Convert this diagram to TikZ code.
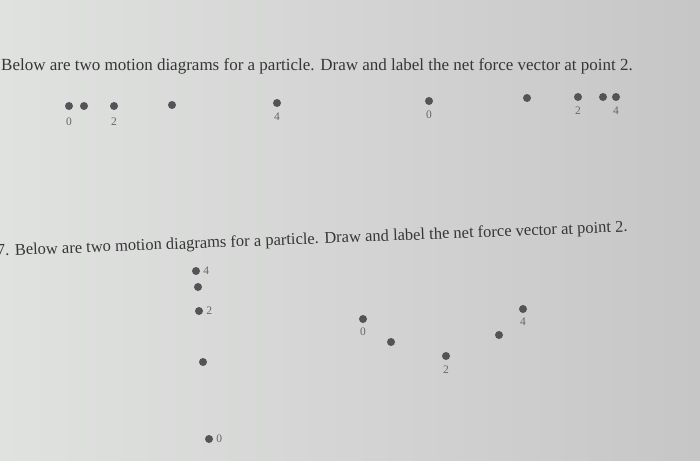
\documentclass[tikz,border=0pt]{standalone}
\usepackage{fontspec}
\setmainfont{Liberation Serif}
\usetikzlibrary{positioning}
\definecolor{paperleft}{HTML}{E0E2E0}
\definecolor{papermid}{HTML}{D6D7D6}
\definecolor{paperright}{HTML}{C6C6C6}
\definecolor{inkgray}{HTML}{363636}
\definecolor{dotgray}{HTML}{545456}
\definecolor{lblgray}{HTML}{666666}
\begin{document}
\begin{tikzpicture}[
    x=1pt, y=-1pt,
    dot/.style={circle, fill=dotgray, inner sep=0pt, minimum size=8pt},
    lbl/.style={text=lblgray, font=\fontsize{11.5}{13}\selectfont, inner sep=0pt},
    task/.style={text=inkgray, font=\fontsize{17}{20}\selectfont, inner sep=0pt, anchor=base west}
]
    \useasboundingbox (0,0) rectangle (700,460);
    \shade[left color=paperleft, middle color=papermid, right color=paperright] (0,0) rectangle (700,460);

    % first question
    \node[task] (taskA) at (1,70) {Below are two motion diagrams for a particle. Draw and label the net force vector at point 2.};

    % diagram A, left
    \node[dot] (a0) at (69,106) {};
    \node[dot] (a1) at (84,106) {};
    \node[dot] (a2) at (114,106) {};
    \node[dot] (a3) at (172,105) {};
    \node[dot] (a4) at (277,103) {};
    \node[lbl] (la0) at (69,122) {0};
    \node[lbl] (la2) at (114,122) {2};
    \node[lbl] (la4) at (277,117) {4};

    % diagram A, right
    \node[dot] (b0) at (429,101) {};
    \node[dot] (b1) at (527,98) {};
    \node[dot] (b2) at (578,97) {};
    \node[dot] (b3) at (603,97) {};
    \node[dot] (b4) at (616,97) {};
    \node[lbl] (lb0) at (429,115) {0};
    \node[lbl] (lb2) at (578,111) {2};
    \node[lbl] (lb4) at (616,111) {4};

    % second question
    \node[task, font=\fontsize{16.5}{20}\selectfont, rotate=2.2] (taskB) at (-3,256) {7. Below are two motion diagrams for a particle. Draw and label the net force vector at point 2.};

    % diagram B, left
    \node[dot] (c4) at (196,271) {};
    \node[dot] (c3) at (198,287) {};
    \node[dot] (c2) at (199,311) {};
    \node[dot] (c1) at (203,362) {};
    \node[dot] (c0) at (209,439) {};
    \node[lbl, right=3pt of c4] (lc4) {4};
    \node[lbl, right=3pt of c2] (lc2) {2};
    \node[lbl, right=3pt of c0] (lc0) {0};

    % diagram B, right
    \node[dot] (d0) at (363,319) {};
    \node[dot] (d1) at (391,342) {};
    \node[dot] (d2) at (446,356) {};
    \node[dot] (d3) at (499,335) {};
    \node[dot] (d4) at (523,309) {};
    \node[lbl] (ld0) at (363,332) {0};
    \node[lbl] (ld2) at (446,370) {2};
    \node[lbl] (ld4) at (523,322) {4};
\end{tikzpicture}
\end{document}
